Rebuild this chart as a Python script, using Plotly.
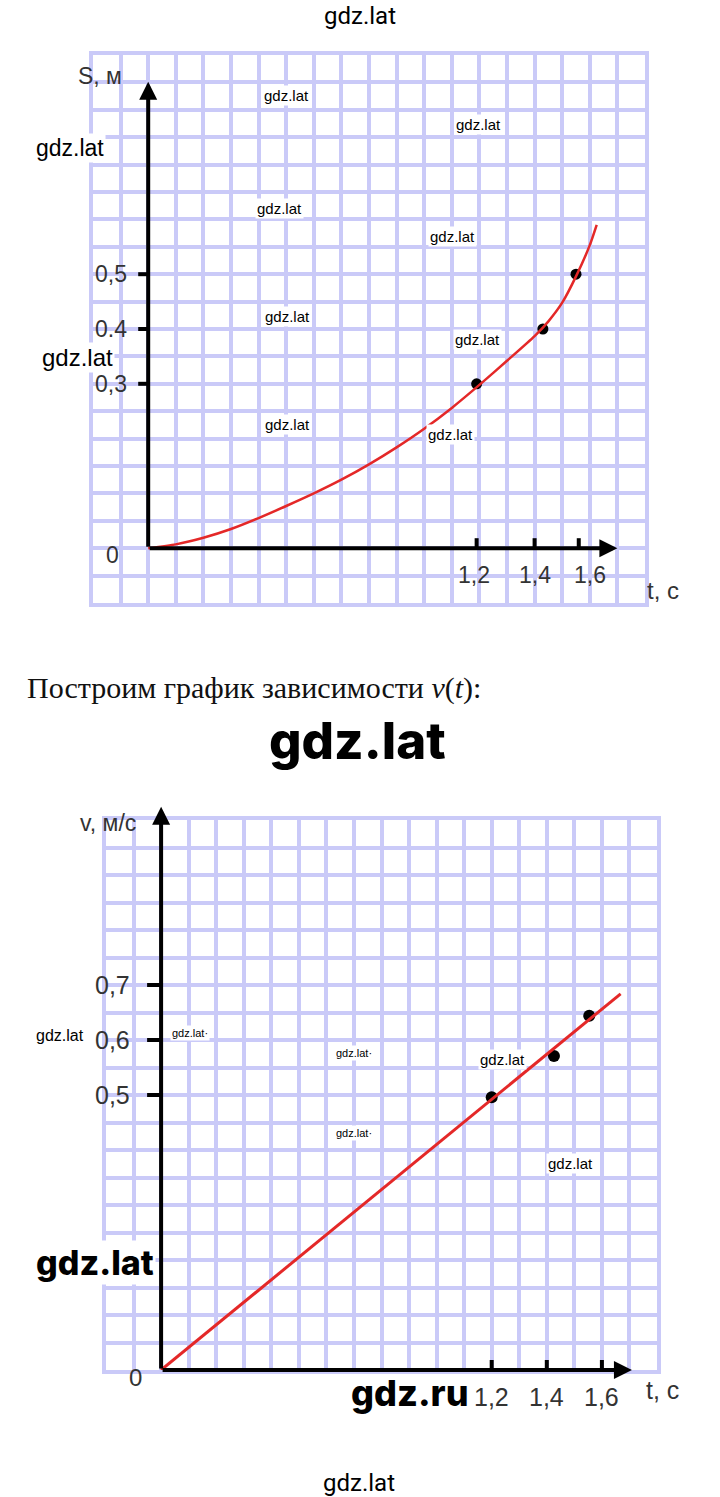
import plotly.graph_objects as go

W, H = 720, 1497

# ---------------- data: S(t) chart ----------------
s_curve_t = [0.0, 0.1, 0.2, 0.3, 0.4, 0.5, 0.6, 0.7, 0.8, 0.9, 1.0, 1.1, 1.2, 1.3, 1.4, 1.45, 1.5, 1.55, 1.6, 1.625]
s_curve_s = [0.0, 0.007, 0.019, 0.035, 0.055, 0.077, 0.100, 0.125, 0.153, 0.184, 0.218, 0.256, 0.298, 0.342, 0.387, 0.414, 0.448, 0.496, 0.553, 0.590]
s_points_t = [1.19, 1.43, 1.55]
s_points_s = [0.30, 0.40, 0.50]
s_xtick_vals = [1.19, 1.40, 1.56]
s_xlabel_vals = [1.18, 1.40, 1.60]
s_xtick_text = ["1,2", "1,4", "1,6"]
s_ytick_vals = [0.5, 0.4, 0.3]
s_ytick_text = ["0,5", "0.4", "0,3"]
s_axis_end_t = 1.70
s_axis_end_s = 0.851

# ---------------- data: v(t) chart ----------------
v_line_t = [0.0, 1.668]
v_line_v = [0.0, 0.684]
v_points_t = [1.20, 1.426, 1.554]
v_points_v = [0.496, 0.571, 0.644]
v_xtick_vals = [1.2, 1.4, 1.6]
v_xtick_text = ["1,2", "1,4", "1,6"]
v_ytick_vals = [0.7, 0.6, 0.5]
v_ytick_text = ["0,7", "0,6", "0,5"]
v_axis_end_t = 1.709
v_axis_end_v = 1.024

GRID = "rgb(202,202,248)"
RED = "rgb(228,40,40)"
TXT = "#333333"
LABEL_FONT = "Liberation Sans, Arial, sans-serif"


def px(x):
    return x / W


def py(y):
    return 1 - y / H


fig = go.Figure()

# top chart
fig.add_trace(go.Scatter(x=s_points_t, y=s_points_s, mode="markers",
                         marker=dict(color="black", size=11),
                         xaxis="x", yaxis="y", showlegend=False, hoverinfo="skip"))
fig.add_trace(go.Scatter(x=s_curve_t, y=s_curve_s, mode="lines",
                         line=dict(color=RED, width=2.5, shape="spline", smoothing=0.6),
                         xaxis="x", yaxis="y", showlegend=False, hoverinfo="skip"))
# bottom chart
fig.add_trace(go.Scatter(x=v_points_t, y=v_points_v, mode="markers",
                         marker=dict(color="black", size=12),
                         xaxis="x2", yaxis="y2", showlegend=False, hoverinfo="skip"))
fig.add_trace(go.Scatter(x=v_line_t, y=v_line_v, mode="lines",
                         line=dict(color=RED, width=3),
                         xaxis="x2", yaxis="y2", showlegend=False, hoverinfo="skip"))

axis_common = dict(showgrid=True, gridcolor=GRID, gridwidth=4, showline=True, mirror=True,
                   linecolor=GRID, linewidth=4, zeroline=False, showticklabels=False,
                   ticks="", fixedrange=True, tick0=0)

fig.update_layout(
    width=W, height=H, margin=dict(l=0, r=0, t=0, b=0),
    paper_bgcolor="white", plot_bgcolor="white", showlegend=False,
    xaxis=dict(domain=[px(93), px(645)], range=[-0.2, 1.8], dtick=0.1, anchor="y", **axis_common),
    yaxis=dict(domain=[py(603), py(55)], range=[-0.1, 0.9], dtick=0.05, anchor="x", **axis_common),
    xaxis2=dict(domain=[px(106), px(657)], range=[-0.2, 1.8], dtick=0.1, anchor="y2", **axis_common),
    yaxis2=dict(domain=[py(1370), py(820)], range=[0, 1.0], dtick=0.05, anchor="x2", **axis_common),
)

shapes = []
ann = []


def axes_arrows(xr, yr, tend, vend):
    for (x, y) in [(tend, 0), (0, vend)]:
        ann.append(dict(x=x, y=y, xref=xr, yref=yr, ax=0, ay=0, axref=xr, ayref=yr,
                        showarrow=True, arrowhead=2, arrowsize=0.9, arrowwidth=4,
                        arrowcolor="black", text="", standoff=0))


axes_arrows("x", "y", s_axis_end_t, s_axis_end_s)
axes_arrows("x2", "y2", v_axis_end_t, v_axis_end_v)

# tick marks
for v in s_ytick_vals:
    shapes.append(dict(type="line", xref="x", yref="y", xsizemode="pixel", xanchor=0,
                       x0=-10, x1=0, y0=v, y1=v, line=dict(color="black", width=4)))
for t in s_xtick_vals:
    shapes.append(dict(type="line", xref="x", yref="y", ysizemode="pixel", yanchor=0,
                       y0=0, y1=10, x0=t, x1=t, line=dict(color="black", width=4)))
for v in v_ytick_vals:
    shapes.append(dict(type="line", xref="x2", yref="y2", xsizemode="pixel", xanchor=0,
                       x0=-14, x1=0, y0=v, y1=v, line=dict(color="black", width=4)))
for t in v_xtick_vals:
    shapes.append(dict(type="line", xref="x2", yref="y2", ysizemode="pixel", yanchor=0,
                       y0=0, y1=10, x0=t, x1=t, line=dict(color="black", width=4)))

# tick labels
for v, s in zip(s_ytick_vals, s_ytick_text):
    ann.append(dict(x=0, y=v, xref="x", yref="y", text=s, showarrow=False, xanchor="right",
                    xshift=-19, font=dict(size=23, color=TXT, family=LABEL_FONT)))
for t, s in zip(s_xlabel_vals, s_xtick_text):
    ann.append(dict(x=t, y=0, xref="x", yref="y", text=s, showarrow=False, yanchor="middle",
                    yshift=-27, font=dict(size=23, color=TXT, family=LABEL_FONT)))
for v, s in zip(v_ytick_vals, v_ytick_text):
    ann.append(dict(x=0, y=v, xref="x2", yref="y2", text=s, showarrow=False, xanchor="right",
                    xshift=-29, font=dict(size=25, color=TXT, family=LABEL_FONT)))
for t, s in zip(v_xtick_vals, v_xtick_text):
    ann.append(dict(x=t, y=0, xref="x2", yref="y2", text=s, showarrow=False, yanchor="middle",
                    yshift=-27, font=dict(size=25, color=TXT, family=LABEL_FONT)))

# origin labels
ann.append(dict(x=0, y=0, xref="x", yref="y", text="0", showarrow=False, xshift=-36, yshift=-7,
                font=dict(size=23, color=TXT, family=LABEL_FONT)))
ann.append(dict(x=0, y=0, xref="x2", yref="y2", text="0", showarrow=False, xshift=-26, yshift=-7,
                font=dict(size=24, color=TXT, family=LABEL_FONT)))

# axis titles
for text, x, y, size in [("S, м", 100, 76, 23), ("t, с", 663, 590, 24),
                         ("v, м/с", 108, 823, 23), ("t, с", 662, 1390, 25)]:
    ann.append(dict(x=px(x), y=py(y), xref="paper", yref="paper", text=text, showarrow=False,
                    xanchor="center", yanchor="middle",
                    font=dict(size=size, color=TXT, family=LABEL_FONT)))

# caption
ann.append(dict(x=px(25), y=py(688), xref="paper", yref="paper",
                text="Построим график зависимости <i>v</i>(<i>t</i>):", showarrow=False,
                xanchor="left", yanchor="middle",
                font=dict(size=30, color="#111111", family="Liberation Serif, Times New Roman, serif")))

# watermarks
marks = [
    ("gdz.lat", 360, 16, 24, False, False, "Roboto"),
    ("gdz.lat", 286, 96, 15, False, True, LABEL_FONT),
    ("gdz.lat", 478, 124, 15, False, True, LABEL_FONT),
    ("gdz.lat", 70, 148, 23, False, True, LABEL_FONT),
    ("gdz.lat", 279, 208, 15, False, True, LABEL_FONT),
    ("gdz.lat", 452, 236, 15, False, True, LABEL_FONT),
    ("gdz.lat", 287, 316, 15, False, True, LABEL_FONT),
    ("gdz.lat", 477, 339, 15, False, True, LABEL_FONT),
    ("gdz.lat", 77, 358, 24, False, True, LABEL_FONT),
    ("gdz.lat", 287, 424, 15, False, True, LABEL_FONT),
    ("gdz.lat", 450, 435, 15, False, True, LABEL_FONT),
    ("gdz.lat", 357, 741, 51, True, True, "Inter"),
    ("gdz.lat", 60, 1035, 16, False, True, LABEL_FONT),
    ("gdz.lat·", 190, 1033, 11, False, True, LABEL_FONT),
    ("gdz.lat·", 354, 1053, 11, False, True, LABEL_FONT),
    ("gdz.lat", 502, 1059, 15, False, True, LABEL_FONT),
    ("gdz.lat·", 354, 1133, 11, False, True, LABEL_FONT),
    ("gdz.lat", 570, 1163, 15, False, True, LABEL_FONT),
    ("gdz.lat", 95, 1262, 34, True, True, "Inter"),
    ("gdz.ru", 410, 1393, 36, True, False, "Inter"),
    ("gdz.lat", 359, 1483, 24, False, False, "Roboto"),
]
for text, x, y, size, bold, bg, fam in marks:
    d = dict(x=px(x), y=py(y), xref="paper", yref="paper", text=text, showarrow=False,
             xanchor="center", yanchor="middle",
             font=dict(size=size, color="black", family=fam, weight=800 if bold else 400))
    if bg:
        d["bgcolor"] = "white"
        d["borderpad"] = 1
    ann.append(d)

fig.update_layout(shapes=shapes, annotations=ann)

fig.write_html("out.html", config={"displayModeBar": False},
               post_script="document.body.style.margin='0';document.body.style.overflow='hidden';")
